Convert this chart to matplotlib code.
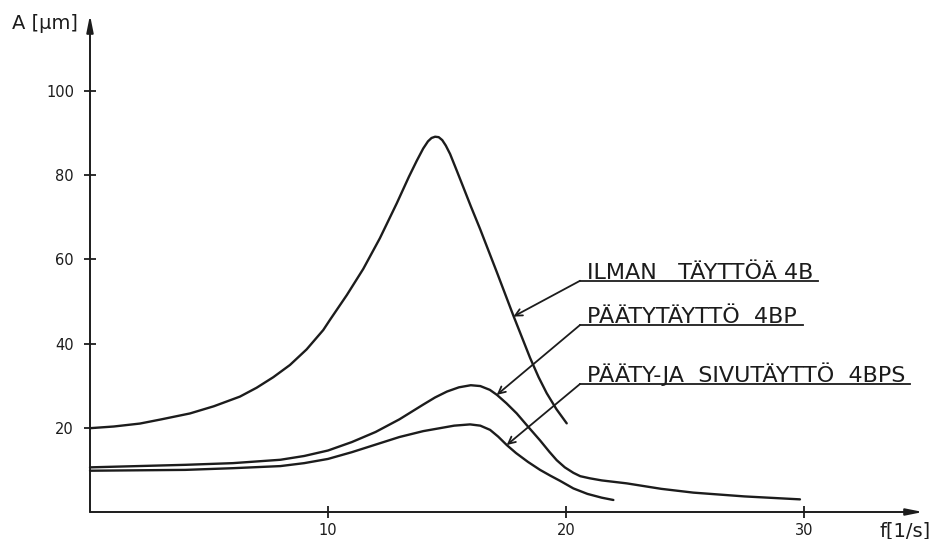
import matplotlib
matplotlib.use("Agg")
import matplotlib.pyplot as plt

# ---- data ----
freq_4b = [0.0, 1.0, 2.1, 3.0, 4.2, 5.2, 6.3, 7.0, 7.7, 8.4, 9.1, 9.8, 10.08, 10.79,
           11.48, 12.18, 12.89, 13.4, 13.73, 14.0, 14.2, 14.35, 14.5, 14.65, 14.8,
           14.95, 15.13, 15.4, 15.68, 16.0, 16.39, 17.09, 17.79, 18.49, 18.85, 19.19,
           19.6, 20.03]
amp_4b = [19.9, 20.3, 21.0, 22.0, 23.4, 25.1, 27.4, 29.5, 32.0, 34.9, 38.6, 43.2, 45.6,
          51.5, 57.7, 65.0, 73.3, 79.6, 83.4, 86.3, 88.0, 88.8, 89.1, 89.0, 88.3,
          87.0, 85.0, 81.2, 77.2, 72.6, 67.2, 57.0, 46.6, 36.6, 32.0, 28.2,
          24.4, 21.05]

freq_4bp = [0.0, 2.0, 4.0, 6.0, 8.0, 9.0, 10.0, 11.0, 12.0, 13.0, 14.0, 14.5, 15.0, 15.5,
            16.0, 16.4, 16.8, 17.1, 17.5, 17.93, 18.4, 18.91, 19.3, 19.61, 19.95,
            20.31, 20.6, 21.0, 21.5, 22.55, 24.0, 25.35, 27.5, 29.83]
amp_4bp = [10.6, 10.9, 11.2, 11.6, 12.4, 13.3, 14.6, 16.6, 19.0, 22.0, 25.5, 27.2, 28.6,
           29.6, 30.1, 29.9, 29.0, 27.8, 25.8, 23.4, 20.3, 17.0, 14.3, 12.3, 10.6,
           9.3, 8.5, 8.0, 7.5, 6.8, 5.5, 4.6, 3.7, 3.0]

freq_4bps = [0.0, 2.0, 4.0, 6.0, 8.0, 9.0, 10.0, 11.0, 12.0, 13.0, 14.0, 14.7, 15.3,
             15.97, 16.4, 16.81, 17.15, 17.51, 17.9, 18.4, 18.91, 19.35, 19.75, 20.31,
             20.9, 21.5, 21.99]
amp_4bps = [9.8, 9.9, 10.0, 10.4, 10.9, 11.6, 12.6, 14.2, 16.0, 17.8, 19.2, 19.9, 20.5,
            20.8, 20.5, 19.5, 17.9, 15.9, 14.0, 11.9, 10.0, 8.6, 7.4, 5.6,
            4.3, 3.4, 2.85]

x_ticks = [10, 20, 30]
y_ticks = [20, 40, 60, 80, 100]

labels = ["ILMAN   TÄYTTÖÄ 4B", "PÄÄTYTÄYTTÖ  4BP", "PÄÄTY-JA  SIVUTÄYTTÖ  4BPS"]
label_line_y = [54.9, 44.4, 30.4]
label_line_end = [30.59, 29.96, 34.45]
label_line_start = 20.59
arrow_tip_f = [17.79, 17.09, 17.51]
arrow_tip_a = [46.4, 27.8, 15.9]

ink = "#1c1c1c"

fig = plt.figure(figsize=(9.36, 5.39), dpi=100)
fig.patch.set_facecolor("white")
ax = fig.add_axes([90 / 936, 27 / 539, 833 / 936, 497 / 539])
ax.set_xlim(0, 35)
ax.set_ylim(0, 118)
for s in ax.spines.values():
    s.set_visible(False)

# axes with arrow heads
arrow_style = dict(arrowstyle="-|>,head_length=1.0,head_width=0.2", lw=1.4,
                   color=ink, shrinkA=0, shrinkB=0)
ax.annotate("", xy=(35, 0), xytext=(0, 0), arrowprops=arrow_style,
            annotation_clip=False)
ax.annotate("", xy=(0, 118), xytext=(0, 0), arrowprops=arrow_style,
            annotation_clip=False)

ax.set_xticks(x_ticks)
ax.set_yticks(y_ticks)
ax.set_xticklabels([str(v) for v in x_ticks])
ax.set_yticklabels([str(v) for v in y_ticks])
ax.tick_params(axis="both", direction="inout", length=8, width=1.3, color=ink,
               labelcolor=ink, labelsize=10.5)
ax.tick_params(axis="x", pad=4)
ax.tick_params(axis="y", pad=7.5)

# curves
for f, a in [(freq_4b, amp_4b), (freq_4bp, amp_4bp), (freq_4bps, amp_4bps)]:
    ax.plot(f, a, color=ink, lw=1.7, solid_joinstyle="round", solid_capstyle="round",
            clip_on=False)

# labels with leader lines
for txt, ly, lend, tf, ta in zip(labels, label_line_y, label_line_end,
                                 arrow_tip_f, arrow_tip_a):
    ax.plot([label_line_start, lend], [ly, ly], color=ink, lw=1.3, clip_on=False)
    ax.annotate("", xy=(tf, ta), xytext=(label_line_start, ly),
                arrowprops=dict(arrowstyle="->,head_length=0.5,head_width=0.25",
                                lw=1.3, color=ink, shrinkA=0, shrinkB=0),
                annotation_clip=False)
    ax.text(label_line_start + 0.3, ly + 0.5, txt, ha="left", va="baseline",
            fontsize=16, color=ink, family="DejaVu Sans")

fig.text(12 / 936, 1 - 23.5 / 539, "A [μm]", ha="left", va="center",
         fontsize=14, color=ink)
fig.text(880 / 936, 1 - 531 / 539, "f[1/s]", ha="left", va="center",
         fontsize=14, color=ink)

fig.savefig("out.png", dpi=100, facecolor="white")
